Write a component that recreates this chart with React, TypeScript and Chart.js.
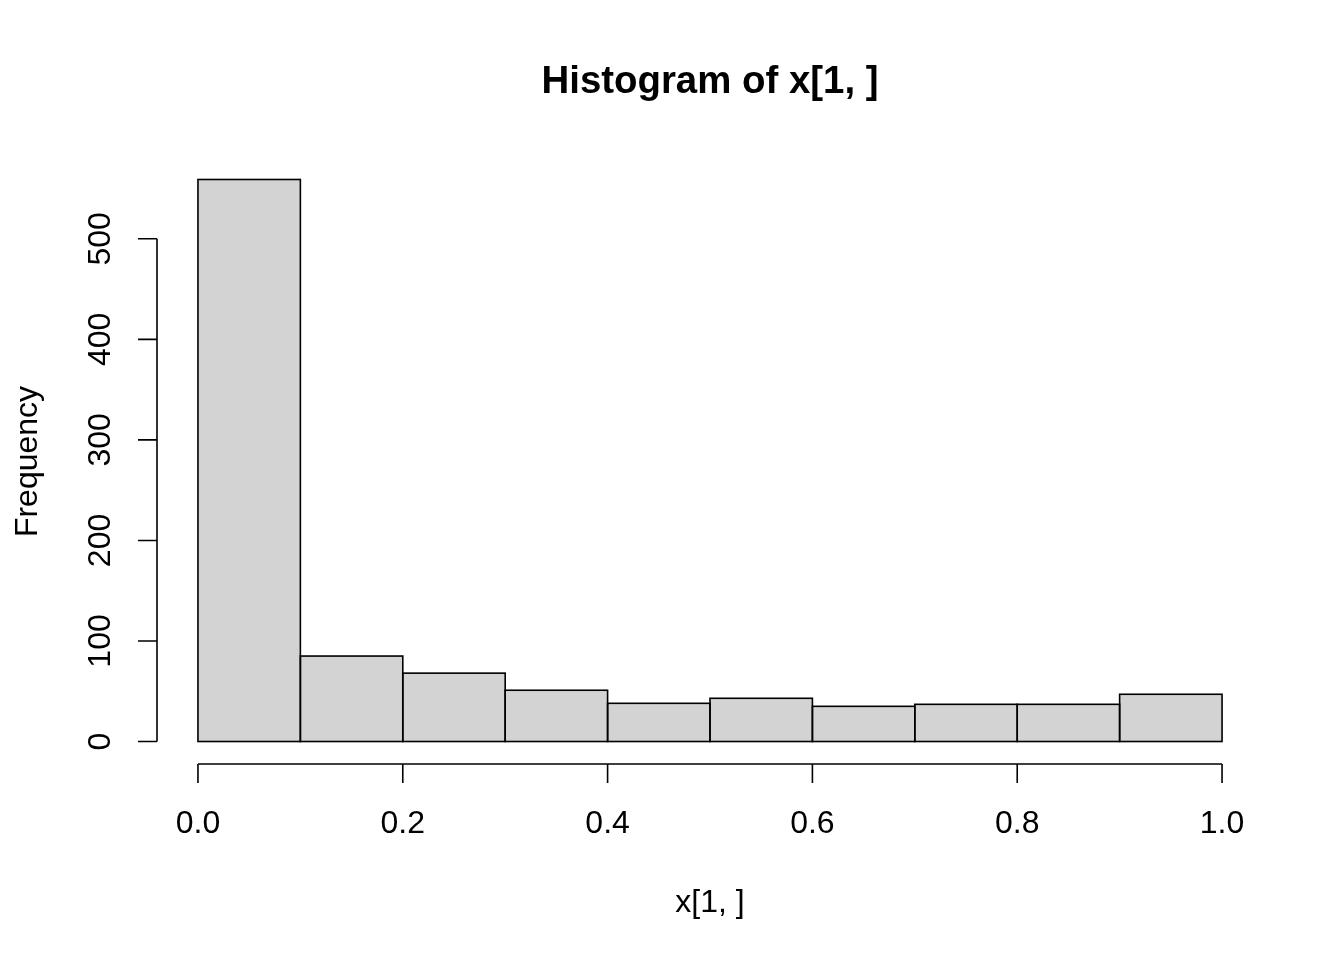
import React, { useEffect, useRef } from "react";
import { Chart, registerables } from "chart.js";

Chart.register(...registerables);

// ---- data ----
const binStarts = [0.0, 0.1, 0.2, 0.3, 0.4, 0.5, 0.6, 0.7, 0.8, 0.9];
const binWidth = 0.1;
const counts = [559, 85, 68, 51, 38, 43, 35, 37, 37, 47];
const xTicks = [0.0, 0.2, 0.4, 0.6, 0.8, 1.0];
const xTickLabels = ["0.0", "0.2", "0.4", "0.6", "0.8", "1.0"];
const yTicks = [0, 100, 200, 300, 400, 500];
const yTickLabels = ["0", "100", "200", "300", "400", "500"];
const titleText = "Histogram of x[1, ]";
const xTitle = "x[1, ]";
const yTitle = "Frequency";

const FONT = '"Liberation Sans", Arial, Helvetica, sans-serif';

const W = 1344;
const H = 960;

export default function App() {
  const ref = useRef<HTMLCanvasElement | null>(null);

  useEffect(() => {
    const canvas = ref.current;
    if (!canvas) return;

    const xMin = -0.04 * 1;
    const xMax = 1 + 0.04;
    const yMaxData = Math.max(...counts);
    const yMin = -0.04 * yMaxData;
    const yMax = yMaxData * 1.04;

    const outlinePlugin = {
      id: "rOutline",
      afterDatasetsDraw(chart: any) {
        const ctx = chart.ctx;
        const meta = chart.getDatasetMeta(0);
        ctx.save();
        ctx.strokeStyle = "#000";
        ctx.lineWidth = 1.6;
        meta.data.forEach((el: any) => {
          const p = el.getProps(["x", "y", "base", "width"], true);
          const l = p.x - p.width / 2;
          ctx.strokeRect(l, p.y, p.width, p.base - p.y);
        });
        ctx.restore();
      },
    };

    const axesPlugin = {
      id: "rAxes",
      afterDraw(chart: any) {
        const ctx = chart.ctx;
        const xs = chart.scales.x;
        const ys = chart.scales.y;
        const area = chart.chartArea;
        ctx.save();
        ctx.strokeStyle = "#000";
        ctx.fillStyle = "#000";
        ctx.lineWidth = 1.6;
        const tick = 19;

        // y axis
        const yAxisX = area.left;
        ctx.beginPath();
        ctx.moveTo(yAxisX, ys.getPixelForValue(yTicks[0]));
        ctx.lineTo(yAxisX, ys.getPixelForValue(yTicks[yTicks.length - 1]));
        yTicks.forEach((v) => {
          const py = ys.getPixelForValue(v);
          ctx.moveTo(yAxisX, py);
          ctx.lineTo(yAxisX - tick, py);
        });
        ctx.stroke();
        ctx.font = `32px ${FONT}`;
        ctx.textAlign = "center";
        ctx.textBaseline = "alphabetic";
        yTicks.forEach((v, i) => {
          const py = ys.getPixelForValue(v);
          ctx.save();
          ctx.translate(yAxisX - 47, py);
          ctx.rotate(-Math.PI / 2);
          ctx.fillText(yTickLabels[i], 0, 0);
          ctx.restore();
        });

        // x axis
        const xAxisY = area.bottom;
        ctx.beginPath();
        ctx.moveTo(xs.getPixelForValue(xTicks[0]), xAxisY);
        ctx.lineTo(xs.getPixelForValue(xTicks[xTicks.length - 1]), xAxisY);
        xTicks.forEach((v) => {
          const px = xs.getPixelForValue(v);
          ctx.moveTo(px, xAxisY);
          ctx.lineTo(px, xAxisY + tick);
        });
        ctx.stroke();
        xTicks.forEach((v, i) => {
          const px = xs.getPixelForValue(v);
          ctx.fillText(xTickLabels[i], px, xAxisY + 69);
        });

        const cx = (area.left + area.right) / 2;
        const cy = (area.top + area.bottom) / 2;

        // axis titles
        ctx.fillText(xTitle, cx, xAxisY + 148);
        ctx.save();
        ctx.translate(37, cy + 1);
        ctx.rotate(-Math.PI / 2);
        ctx.fillText(yTitle, 0, 0);
        ctx.restore();

        // main title
        ctx.font = `bold 38.4px ${FONT}`;
        ctx.fillText(titleText, cx, 93);
        ctx.restore();
      },
    };

    const chart = new Chart(canvas, {
      type: "bar",
      data: {
        datasets: [
          {
            data: binStarts.map((s, i) => ({ x: s + binWidth / 2, y: counts[i] })),
            backgroundColor: "#d3d3d3",
            borderWidth: 0,
            barPercentage: 1,
            categoryPercentage: 1,
          },
        ],
      },
      options: {
        responsive: false,
        animation: false,
        devicePixelRatio: 1,
        layout: { padding: { left: 157, right: W - 1263, top: 157, bottom: H - 764 } },
        scales: {
          x: { type: "linear", min: xMin, max: xMax, display: false, offset: false },
          y: { type: "linear", min: yMin, max: yMax, display: false },
        },
        plugins: {
          legend: { display: false },
          tooltip: { enabled: false },
          title: { display: false },
        },
      },
      plugins: [outlinePlugin, axesPlugin],
    } as any);

    return () => chart.destroy();
  }, []);

  return (
    <div style={{ position: "absolute", left: 0, top: 0, width: W, height: H, background: "#fff" }}>
      <canvas ref={ref} width={W} height={H} style={{ display: "block", width: W, height: H }} />
    </div>
  );
}
